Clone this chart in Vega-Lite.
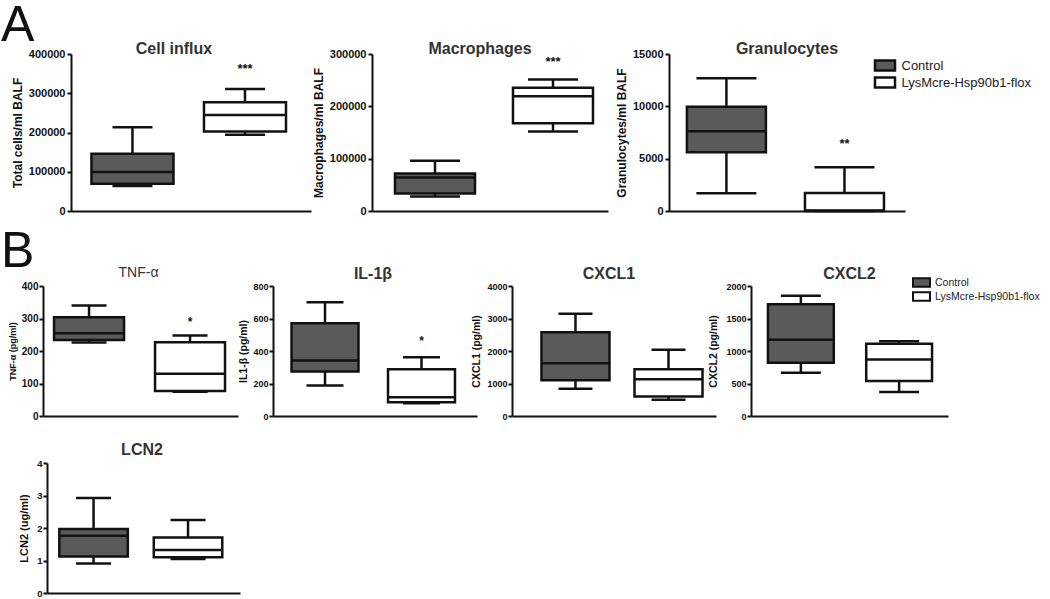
{
"$schema": "https://vega.github.io/schema/vega-lite/v6.json",
"padding": {"left": 1, "top": 0, "right": 5, "bottom": 5},
"bounds": "flush",
"spacing": 232,
"resolve": {"legend": {"fill": "independent"}},
"datasets": {
 "boxes": [
  {"panel":"cell","group":"Control","min":63600,"q1":69500,"median":99200,"q3":145800,"max":213600},
  {"panel":"cell","group":"LysMcre-Hsp90b1-flox","min":194100,"q1":202500,"median":244900,"q3":277100,"max":311000},
  {"panel":"macro","group":"Control","min":27600,"q1":33300,"median":64100,"q3":71800,"max":96200},
  {"panel":"macro","group":"LysMcre-Hsp90b1-flox","min":151900,"q1":167900,"median":219200,"q3":235300,"max":251300},
  {"panel":"gran","group":"Control","min":1700,"q1":5620,"median":7610,"q3":9960,"max":12690},
  {"panel":"gran","group":"LysMcre-Hsp90b1-flox","min":0,"q1":0,"median":40,"q3":1730,"max":4180},
  {"panel":"tnf","group":"Control","min":226,"q1":234,"median":255,"q3":304,"max":340},
  {"panel":"tnf","group":"LysMcre-Hsp90b1-flox","min":75,"q1":77,"median":130,"q3":227,"max":248},
  {"panel":"il1b","group":"Control","min":188,"q1":274,"median":342,"q3":571,"max":700},
  {"panel":"il1b","group":"LysMcre-Hsp90b1-flox","min":78,"q1":85,"median":115,"q3":288,"max":362},
  {"panel":"cxcl1","group":"Control","min":840,"q1":1100,"median":1620,"q3":2580,"max":3150},
  {"panel":"cxcl1","group":"LysMcre-Hsp90b1-flox","min":500,"q1":600,"median":1130,"q3":1440,"max":2040},
  {"panel":"cxcl2","group":"Control","min":665,"q1":820,"median":1175,"q3":1720,"max":1850},
  {"panel":"cxcl2","group":"LysMcre-Hsp90b1-flox","min":370,"q1":537,"median":870,"q3":1110,"max":1150},
  {"panel":"lcn2","group":"Control","min":0.91,"q1":1.12,"median":1.76,"q3":1.97,"max":2.92},
  {"panel":"lcn2","group":"LysMcre-Hsp90b1-flox","min":1.05,"q1":1.1,"median":1.32,"q3":1.71,"max":2.25}
 ],
 "stars": [
  {"panel":"cell","group":"LysMcre-Hsp90b1-flox","value":369000,"label":"***"},
  {"panel":"macro","group":"LysMcre-Hsp90b1-flox","value":290000,"label":"***"},
  {"panel":"gran","group":"LysMcre-Hsp90b1-flox","value":6700,"label":"**"},
  {"panel":"tnf","group":"LysMcre-Hsp90b1-flox","value":297,"label":"*"},
  {"panel":"il1b","group":"LysMcre-Hsp90b1-flox","value":478,"label":"*"}
 ]
},
"vconcat": [
 {
  "bounds": "flush",
  "spacing": 1,
  "title": {"text": "A", "fontSize": 50, "fontWeight": "normal", "color": "#111", "anchor": "start", "frame": "group", "dx": -42, "offset": -9.5},
  "hconcat": [
   {"width": 27, "height": 1, "data": {"values": []}, "mark": "point"},
   {
    "bounds": "flush",
    "spacing": 61,
    "hconcat": [
     {
      "width": 240, "height": 157,
      "title": {"text": "Cell influx", "fontSize": 16, "fontWeight": "bold", "color": "#333", "frame": "group", "anchor": "middle", "dx": -17, "offset": -9},
      "data": {"name": "boxes"},
      "transform": [{"filter": "datum.panel === 'cell'"}],
      "encoding": {"x": {"field": "group", "type": "nominal", "scale": {"domain": ["Control","LysMcre-Hsp90b1-flox"], "paddingInner": 0.271, "paddingOuter": 0.202, "align": 0.45}, "axis": {"labels": false, "ticks": false, "title": null}}},
      "layer": [
       {"mark": {"type": "rule", "color": "#111", "strokeWidth": 2.5}, "encoding": {"y": {"field": "min", "type": "quantitative", "scale": {"domain": [0, 400000], "nice": false}, "axis": {"values": [0,100000,200000,300000,400000], "tickCount": 10, "format": "d", "title": "Total cells/ml BALF", "labelFontSize": 11, "titleFontSize": 12}}, "y2": {"field": "max"}}},
       {"mark": {"type": "tick", "color": "#111", "size": 40, "thickness": 2.5}, "encoding": {"y": {"field": "max", "type": "quantitative"}}},
       {"mark": {"type": "tick", "color": "#111", "size": 40, "thickness": 2.5}, "encoding": {"y": {"field": "min", "type": "quantitative"}}},
       {"mark": {"type": "bar", "stroke": "#111", "strokeWidth": 2.5}, "encoding": {"y": {"field": "q1", "type": "quantitative"}, "y2": {"field": "q3"}, "color": {"field": "group", "type": "nominal", "scale": {"domain": ["Control","LysMcre-Hsp90b1-flox"], "range": ["#5a5a5a","#ffffff"]}, "legend": null}}},
       {"mark": {"type": "tick", "color": "#111", "size": 82, "thickness": 2.5}, "encoding": {"y": {"field": "median", "type": "quantitative"}}},
       {"data": {"name": "stars"}, "transform": [{"filter": "datum.panel === 'cell'"}], "mark": {"type": "text", "font": "Liberation Sans", "fontWeight": "bold", "fontSize": 13, "baseline": "middle", "dy": 3, "color": "#111"}, "encoding": {"y": {"field": "value", "type": "quantitative"}, "text": {"field": "label"}}}
      ]
     },
     {
      "width": 236, "height": 157,
      "title": {"text": "Macrophages", "fontSize": 16, "fontWeight": "bold", "color": "#333", "frame": "group", "anchor": "middle", "dx": -10, "offset": -9},
      "data": {"name": "boxes"},
      "transform": [{"filter": "datum.panel === 'macro'"}],
      "encoding": {"x": {"field": "group", "type": "nominal", "scale": {"domain": ["Control","LysMcre-Hsp90b1-flox"], "paddingInner": 0.322, "paddingOuter": 0.161, "align": 0.605}, "axis": {"labels": false, "ticks": false, "title": null}}},
      "layer": [
       {"mark": {"type": "rule", "color": "#111", "strokeWidth": 2.5}, "encoding": {"y": {"field": "min", "type": "quantitative", "scale": {"domain": [0, 300000], "nice": false}, "axis": {"values": [0,100000,200000,300000], "tickCount": 10, "format": "d", "title": "Macrophages/ml BALF", "labelFontSize": 11, "titleFontSize": 12}}, "y2": {"field": "max"}}},
       {"mark": {"type": "tick", "color": "#111", "size": 50, "thickness": 2.5}, "encoding": {"y": {"field": "max", "type": "quantitative"}}},
       {"mark": {"type": "tick", "color": "#111", "size": 50, "thickness": 2.5}, "encoding": {"y": {"field": "min", "type": "quantitative"}}},
       {"mark": {"type": "bar", "stroke": "#111", "strokeWidth": 2.5}, "encoding": {"y": {"field": "q1", "type": "quantitative"}, "y2": {"field": "q3"}, "color": {"field": "group", "type": "nominal", "scale": {"domain": ["Control","LysMcre-Hsp90b1-flox"], "range": ["#5a5a5a","#ffffff"]}, "legend": null}}},
       {"mark": {"type": "tick", "color": "#111", "size": 80, "thickness": 2.5}, "encoding": {"y": {"field": "median", "type": "quantitative"}}},
       {"data": {"name": "stars"}, "transform": [{"filter": "datum.panel === 'macro'"}], "mark": {"type": "text", "font": "Liberation Sans", "fontWeight": "bold", "fontSize": 13, "baseline": "middle", "dy": 3, "color": "#111"}, "encoding": {"y": {"field": "value", "type": "quantitative"}, "text": {"field": "label"}}}
      ]
     },
     {
      "width": 236, "height": 157,
      "title": {"text": "Granulocytes", "fontSize": 16, "fontWeight": "bold", "color": "#333", "frame": "group", "anchor": "middle", "dx": 0, "offset": -9},
      "data": {"name": "boxes"},
      "transform": [{"filter": "datum.panel === 'gran'"}],
      "encoding": {"x": {"field": "group", "type": "nominal", "scale": {"domain": ["Control","LysMcre-Hsp90b1-flox"], "paddingInner": 0.331, "paddingOuter": 0.165, "align": 0.46}, "axis": {"labels": false, "ticks": false, "title": null}}},
      "layer": [
       {"mark": {"type": "rule", "color": "#111", "strokeWidth": 2.5}, "encoding": {"y": {"field": "min", "type": "quantitative", "scale": {"domain": [0, 15000], "nice": false}, "axis": {"values": [0,5000,10000,15000], "tickCount": 10, "format": "d", "title": "Granulocytes/ml BALF", "labelFontSize": 11, "titleFontSize": 12}}, "y2": {"field": "max"}}},
       {"mark": {"type": "tick", "color": "#111", "size": 60, "thickness": 2.5}, "encoding": {"y": {"field": "max", "type": "quantitative"}}},
       {"mark": {"type": "tick", "color": "#111", "size": 60, "thickness": 2.5}, "encoding": {"y": {"field": "min", "type": "quantitative"}}},
       {"mark": {"type": "bar", "stroke": "#111", "strokeWidth": 2.5}, "encoding": {"y": {"field": "q1", "type": "quantitative"}, "y2": {"field": "q3"}, "fill": {"field": "group", "type": "nominal", "scale": {"domain": ["Control","LysMcre-Hsp90b1-flox"], "range": ["#5a5a5a","#ffffff"]}, "legend": {"orient": "none", "legendX": 835.5, "legendY": 5, "title": null, "symbolType": "M-2,-1H2V1H-2Z", "symbolSize": 100, "symbolStrokeColor": "#111", "symbolStrokeWidth": 2.5, "labelFont": "Liberation Sans", "labelFontSize": 13, "labelColor": "#222", "labelOffset": 10, "rowPadding": -9, "padding": 0}}}},
       {"mark": {"type": "tick", "color": "#111", "size": 79, "thickness": 2.5}, "encoding": {"y": {"field": "median", "type": "quantitative"}}},
       {"data": {"name": "stars"}, "transform": [{"filter": "datum.panel === 'gran'"}], "mark": {"type": "text", "font": "Liberation Sans", "fontWeight": "bold", "fontSize": 13, "baseline": "middle", "dy": 3, "color": "#111"}, "encoding": {"y": {"field": "value", "type": "quantitative"}, "text": {"field": "label"}}}
      ]
     }
    ]
   }
  ]
 },
 {
  "bounds": "flush",
  "spacing": 177,
  "vconcat": [
   {
    "bounds": "flush",
    "spacing": 35,
    "title": {"text": "B", "fontSize": 50, "fontWeight": "normal", "color": "#111", "anchor": "start", "frame": "group", "dx": -42, "offset": -10.5},
    "hconcat": [
     {
      "width": 195, "height": 130,
      "title": {"text": "TNF-α", "fontSize": 14, "fontWeight": "normal", "color": "#333", "frame": "group", "anchor": "middle", "dx": -2, "offset": 1},
      "data": {"name": "boxes"},
      "transform": [{"filter": "datum.panel === 'tnf'"}],
      "encoding": {"x": {"field": "group", "type": "nominal", "scale": {"domain": ["Control","LysMcre-Hsp90b1-flox"], "paddingInner": 0.307, "paddingOuter": 0.119, "align": 0.46}, "axis": {"labels": false, "ticks": false, "title": null}}},
      "layer": [
       {"mark": {"type": "rule", "color": "#111", "strokeWidth": 2.5}, "encoding": {"y": {"field": "min", "type": "quantitative", "scale": {"domain": [0, 400], "nice": false}, "axis": {"values": [0,100,200,300,400], "tickCount": 10, "format": "d", "title": "TNF-α (pg/ml)", "labelFontSize": 10, "titleFontSize": 9, "labelPadding": 1, "titlePadding": 4}}, "y2": {"field": "max"}}},
       {"mark": {"type": "tick", "color": "#111", "size": 35, "thickness": 2.5}, "encoding": {"y": {"field": "max", "type": "quantitative"}}},
       {"mark": {"type": "tick", "color": "#111", "size": 35, "thickness": 2.5}, "encoding": {"y": {"field": "min", "type": "quantitative"}}},
       {"mark": {"type": "bar", "stroke": "#111", "strokeWidth": 2.5}, "encoding": {"y": {"field": "q1", "type": "quantitative"}, "y2": {"field": "q3"}, "color": {"field": "group", "type": "nominal", "scale": {"domain": ["Control","LysMcre-Hsp90b1-flox"], "range": ["#5a5a5a","#ffffff"]}, "legend": null}}},
       {"mark": {"type": "tick", "color": "#111", "size": 70, "thickness": 2.5}, "encoding": {"y": {"field": "median", "type": "quantitative"}}},
       {"data": {"name": "stars"}, "transform": [{"filter": "datum.panel === 'tnf'"}], "mark": {"type": "text", "font": "Liberation Sans", "fontWeight": "bold", "fontSize": 12, "baseline": "middle", "dy": 3, "color": "#111"}, "encoding": {"y": {"field": "value", "type": "quantitative"}, "text": {"field": "label"}}}
      ]
     },
     {
      "width": 204, "height": 130,
      "title": {"text": "IL-1β", "fontSize": 16, "fontWeight": "bold", "color": "#333", "frame": "group", "anchor": "middle", "dx": -2, "offset": 0},
      "data": {"name": "boxes"},
      "transform": [{"filter": "datum.panel === 'il1b'"}],
      "encoding": {"x": {"field": "group", "type": "nominal", "scale": {"domain": ["Control","LysMcre-Hsp90b1-flox"], "paddingInner": 0.306, "paddingOuter": 0.21, "align": 0.457}, "axis": {"labels": false, "ticks": false, "title": null}}},
      "layer": [
       {"mark": {"type": "rule", "color": "#111", "strokeWidth": 2.5}, "encoding": {"y": {"field": "min", "type": "quantitative", "scale": {"domain": [0, 800], "nice": false}, "axis": {"values": [0,200,400,600,800], "tickCount": 10, "format": "d", "title": "IL1-β (pg/ml)", "labelFontSize": 9, "titleFontSize": 10.5, "labelPadding": 1, "titlePadding": 4}}, "y2": {"field": "max"}}},
       {"mark": {"type": "tick", "color": "#111", "size": 37, "thickness": 2.5}, "encoding": {"y": {"field": "max", "type": "quantitative"}}},
       {"mark": {"type": "tick", "color": "#111", "size": 37, "thickness": 2.5}, "encoding": {"y": {"field": "min", "type": "quantitative"}}},
       {"mark": {"type": "bar", "stroke": "#111", "strokeWidth": 2.5}, "encoding": {"y": {"field": "q1", "type": "quantitative"}, "y2": {"field": "q3"}, "color": {"field": "group", "type": "nominal", "scale": {"domain": ["Control","LysMcre-Hsp90b1-flox"], "range": ["#5a5a5a","#ffffff"]}, "legend": null}}},
       {"mark": {"type": "tick", "color": "#111", "size": 67, "thickness": 2.5}, "encoding": {"y": {"field": "median", "type": "quantitative"}}},
       {"data": {"name": "stars"}, "transform": [{"filter": "datum.panel === 'il1b'"}], "mark": {"type": "text", "font": "Liberation Sans", "fontWeight": "bold", "fontSize": 12, "baseline": "middle", "dy": 3, "color": "#111"}, "encoding": {"y": {"field": "value", "type": "quantitative"}, "text": {"field": "label"}}}
      ]
     },
     {
      "width": 204, "height": 130,
      "title": {"text": "CXCL1", "fontSize": 16, "fontWeight": "bold", "color": "#333", "frame": "group", "anchor": "middle", "dx": -5, "offset": 0},
      "data": {"name": "boxes"},
      "transform": [{"filter": "datum.panel === 'cxcl1'"}],
      "encoding": {"x": {"field": "group", "type": "nominal", "scale": {"domain": ["Control","LysMcre-Hsp90b1-flox"], "paddingInner": 0.269, "paddingOuter": 0.231, "align": 0.686}, "axis": {"labels": false, "ticks": false, "title": null}}},
      "layer": [
       {"mark": {"type": "rule", "color": "#111", "strokeWidth": 2.5}, "encoding": {"y": {"field": "min", "type": "quantitative", "scale": {"domain": [0, 4000], "nice": false}, "axis": {"values": [0,1000,2000,3000,4000], "tickCount": 10, "format": "d", "title": "CXCL1 (pg/ml)", "labelFontSize": 9, "titleFontSize": 10.5, "labelPadding": 1, "titlePadding": 5}}, "y2": {"field": "max"}}},
       {"mark": {"type": "tick", "color": "#111", "size": 34, "thickness": 2.5}, "encoding": {"y": {"field": "max", "type": "quantitative"}}},
       {"mark": {"type": "tick", "color": "#111", "size": 34, "thickness": 2.5}, "encoding": {"y": {"field": "min", "type": "quantitative"}}},
       {"mark": {"type": "bar", "stroke": "#111", "strokeWidth": 2.5}, "encoding": {"y": {"field": "q1", "type": "quantitative"}, "y2": {"field": "q3"}, "color": {"field": "group", "type": "nominal", "scale": {"domain": ["Control","LysMcre-Hsp90b1-flox"], "range": ["#5a5a5a","#ffffff"]}, "legend": null}}},
       {"mark": {"type": "tick", "color": "#111", "size": 68, "thickness": 2.5}, "encoding": {"y": {"field": "median", "type": "quantitative"}}}
      ]
     },
     {
      "width": 197, "height": 130,
      "title": {"text": "CXCL2", "fontSize": 16, "fontWeight": "bold", "color": "#333", "frame": "group", "anchor": "middle", "dx": 0, "offset": 0},
      "data": {"name": "boxes"},
      "transform": [{"filter": "datum.panel === 'cxcl2'"}],
      "encoding": {"x": {"field": "group", "type": "nominal", "scale": {"domain": ["Control","LysMcre-Hsp90b1-flox"], "paddingInner": 0.33, "paddingOuter": 0.1675, "align": 0.515}, "axis": {"labels": false, "ticks": false, "title": null}}},
      "layer": [
       {"mark": {"type": "rule", "color": "#111", "strokeWidth": 2.5}, "encoding": {"y": {"field": "min", "type": "quantitative", "scale": {"domain": [0, 2000], "nice": false}, "axis": {"values": [0,500,1000,1500,2000], "tickCount": 10, "format": "d", "title": "CXCL2 (pg/ml)", "labelFontSize": 9, "titleFontSize": 10.5, "labelPadding": 1, "titlePadding": 7}}, "y2": {"field": "max"}}},
       {"mark": {"type": "tick", "color": "#111", "size": 40, "thickness": 2.5}, "encoding": {"y": {"field": "max", "type": "quantitative"}}},
       {"mark": {"type": "tick", "color": "#111", "size": 40, "thickness": 2.5}, "encoding": {"y": {"field": "min", "type": "quantitative"}}},
       {"mark": {"type": "bar", "stroke": "#111", "strokeWidth": 2.5}, "encoding": {"y": {"field": "q1", "type": "quantitative"}, "y2": {"field": "q3"}, "fill": {"field": "group", "type": "nominal", "scale": {"domain": ["Control","LysMcre-Hsp90b1-flox"], "range": ["#5a5a5a","#ffffff"]}, "legend": {"orient": "none", "legendX": 873, "legendY": -9, "title": null, "symbolType": "M-2,-1H2V1H-2Z", "symbolSize": 72, "symbolStrokeColor": "#111", "symbolStrokeWidth": 2, "labelFont": "Liberation Sans", "labelFontSize": 10.5, "labelColor": "#222", "labelOffset": 8, "rowPadding": -6, "padding": 0}}}},
       {"mark": {"type": "tick", "color": "#111", "size": 66, "thickness": 2.5}, "encoding": {"y": {"field": "median", "type": "quantitative"}}}
      ]
     }
    ]
   },
   {
    "bounds": "flush",
    "spacing": 1,
    "hconcat": [
     {"width": 3, "height": 1, "data": {"values": []}, "mark": "point"},
     {
      "width": 193, "height": 130,
      "title": {"text": "LCN2", "fontSize": 16, "fontWeight": "bold", "color": "#333", "frame": "group", "anchor": "middle", "dx": -1.5, "offset": 0},
      "data": {"name": "boxes"},
      "transform": [{"filter": "datum.panel === 'lcn2'"}],
      "encoding": {"x": {"field": "group", "type": "nominal", "scale": {"domain": ["Control","LysMcre-Hsp90b1-flox"], "paddingInner": 0.275, "paddingOuter": 0.159, "align": 0.41}, "axis": {"labels": false, "ticks": false, "title": null}}},
      "layer": [
       {"mark": {"type": "rule", "color": "#111", "strokeWidth": 2.5}, "encoding": {"y": {"field": "min", "type": "quantitative", "scale": {"domain": [0, 4], "nice": false}, "axis": {"values": [0,1,2,3,4], "tickCount": 10, "format": "d", "title": "LCN2 (ug/ml)", "labelFontSize": 9.5, "titleFontSize": 11, "labelPadding": 1, "titlePadding": 7}}, "y2": {"field": "max"}}},
       {"mark": {"type": "tick", "color": "#111", "size": 35, "thickness": 2.5}, "encoding": {"y": {"field": "max", "type": "quantitative"}}},
       {"mark": {"type": "tick", "color": "#111", "size": 35, "thickness": 2.5}, "encoding": {"y": {"field": "min", "type": "quantitative"}}},
       {"mark": {"type": "bar", "stroke": "#111", "strokeWidth": 2.5}, "encoding": {"y": {"field": "q1", "type": "quantitative"}, "y2": {"field": "q3"}, "color": {"field": "group", "type": "nominal", "scale": {"domain": ["Control","LysMcre-Hsp90b1-flox"], "range": ["#5a5a5a","#ffffff"]}, "legend": null}}},
       {"mark": {"type": "tick", "color": "#111", "size": 68.5, "thickness": 2.5}, "encoding": {"y": {"field": "median", "type": "quantitative"}}}
      ]
     }
    ]
   }
  ]
 }
],
"config": {
 "view": {"stroke": null},
 "font": "Liberation Sans",
 "title": {"font": "Liberation Sans"},
 "tick": {"opacity": 1},
 "rule": {"opacity": 1},
 "axis": {"domainColor": "#111", "domainWidth": 2, "tickColor": "#111", "tickWidth": 2, "tickSize": 4, "labelFont": "Liberation Sans", "labelFontWeight": "bold", "labelColor": "#111", "titleFont": "Liberation Sans", "titleFontWeight": "bold", "titleColor": "#111", "grid": false, "labelPadding": 2, "titlePadding": 4, "labelOverlap": false, "labelBound": false}
}
}
